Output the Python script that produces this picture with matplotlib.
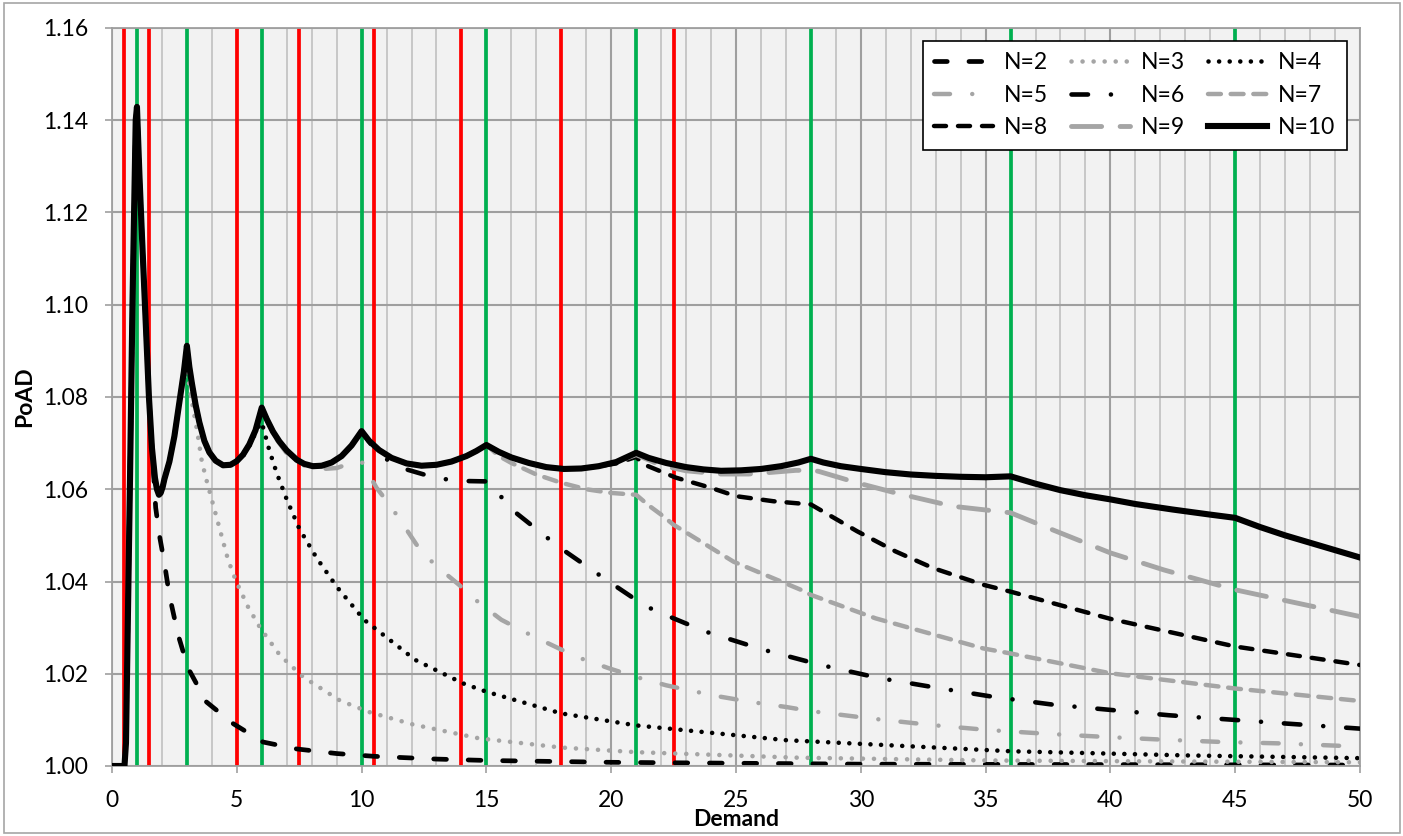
import matplotlib.pyplot as plt
from matplotlib.patches import Rectangle
from matplotlib.ticker import MultipleLocator, FormatStrFormatter

plt.rcParams['font.family'] = ['Lato', 'DejaVu Sans']

# N=10, top envelope
x10 = [0, 0.5, 0.56, 0.72, 0.82, 0.95, 1.0, 1.1, 1.2, 1.32, 1.48, 1.6, 1.72, 1.8,
       1.88, 1.95, 2.03, 2.1, 2.3, 2.5, 2.73, 2.88, 3.0, 3.1, 3.2, 3.35, 3.5, 3.7,
       3.9, 4.15, 4.45, 4.75, 5.0, 5.25, 5.5, 5.75, 6.0, 6.2, 6.45, 6.7, 7.0, 7.4,
       7.7, 8.05, 8.4, 8.8, 9.2, 9.6, 10.0, 10.3, 10.7, 11.2, 11.8, 12.4, 13.0, 13.6,
       14.2, 14.6, 15.0, 15.5, 16.0, 16.7, 17.4, 18.1, 18.8, 19.5, 20.2, 21.0, 21.5,
       22.2, 23.0, 23.7, 24.4, 25.2, 26.0, 26.8, 27.5, 28.0, 28.5, 29.2, 30.0, 31.0,
       32.0, 33.0, 34.0, 35.0, 36.0, 37.0, 38.0, 39.0, 40.0, 41.0, 42.5, 44.0, 45.0,
       46.0, 47.0, 48.0, 49.0, 50.0]
y10 = [1.000, 1.000, 1.005, 1.0617, 1.100, 1.140, 1.1429, 1.128, 1.115, 1.100, 1.080,
       1.069, 1.0625, 1.0600, 1.0588, 1.0592, 1.0605, 1.0622, 1.066, 1.0715, 1.080,
       1.0855, 1.0911, 1.0865, 1.0830, 1.0783, 1.0745, 1.0705, 1.0680, 1.0662,
       1.0652, 1.0653, 1.0661, 1.0675, 1.0697, 1.0728, 1.0777, 1.0752, 1.0725,
       1.0704, 1.0684, 1.0664, 1.0655, 1.0650, 1.0651, 1.0658, 1.0672, 1.0695,
       1.0726, 1.0705, 1.0685, 1.0668, 1.0656, 1.0651, 1.0653, 1.0660, 1.0672,
       1.0683, 1.0696, 1.0681, 1.0669, 1.0657, 1.0648, 1.0644, 1.0645, 1.0650,
       1.0659, 1.0679, 1.0668, 1.0657, 1.0648, 1.0643, 1.0640, 1.0641, 1.0644,
       1.0650, 1.0658, 1.0666, 1.0658, 1.0650, 1.0644, 1.0637, 1.0632, 1.0629,
       1.0627, 1.0626, 1.0628, 1.0612, 1.0598, 1.0587, 1.0578, 1.0568, 1.0556,
       1.0545, 1.0538, 1.0518, 1.0500, 1.0484, 1.0468, 1.0452]

# other N: they follow N=10 up to the start of their own tail
x2 = [1.6, 1.75, 1.9, 2.1, 2.3, 2.65, 3.05, 3.78, 4.85, 6.05, 7.4, 9.0, 10.5, 13, 15,
      20, 25, 30, 40, 50]
y2 = [1.069, 1.056, 1.050, 1.044, 1.037, 1.0284, 1.0212, 1.0139, 1.0092, 1.0052,
      1.0037, 1.0027, 1.0021, 1.0015, 1.0012, 1.0008, 1.0006, 1.0004, 1.0003, 1.0002]

x3 = [2.88, 3.0, 3.2, 3.4, 3.6, 3.78, 4.12, 4.65, 4.96, 5.45, 5.93, 6.73, 7.66, 9.13,
      10.3, 12.06, 14.7, 18, 21, 27.5, 35, 42, 50]
y3 = [1.0840, 1.086, 1.079, 1.073, 1.066, 1.0621, 1.0553, 1.0447, 1.0402, 1.0345,
      1.0300, 1.0240, 1.0193, 1.0142, 1.0117, 1.0090, 1.0060, 1.0040, 1.0030, 1.0018,
      1.0012, 1.0010, 1.0008]

x4 = [5.25, 5.5, 5.75, 5.92, 6.0, 6.3, 6.6, 7.0, 7.5, 8.2, 9.0, 10.1, 12.15, 14.07,
      15, 18, 21, 27, 36, 43, 50]
y4 = [1.0672, 1.0694, 1.0722, 1.0741, 1.0745, 1.0685, 1.0635, 1.0578, 1.0515, 1.0451,
      1.0389, 1.0317, 1.0230, 1.0179, 1.0161, 1.0114, 1.0088, 1.0056, 1.0032, 1.0023,
      1.0017]

x5 = [6.0, 6.5, 7.0, 7.5, 8.2, 9.0, 9.7, 10.0, 10.6, 11.07, 11.5, 12.2, 12.9, 13.9,
      14.7, 15.6, 16.7, 17.9, 18.8, 19.9, 21, 22.2, 23.3, 24.4, 25.7, 27, 28, 30.4,
      32.8, 35.1, 37.4, 39.8, 42.15, 44.5, 46.8, 50]
y5 = [1.0777, 1.0715, 1.0678, 1.0655, 1.0643, 1.0646, 1.0659, 1.0660, 1.0603, 1.0570,
      1.0537, 1.0480, 1.0438, 1.0393, 1.0354, 1.0317, 1.0286, 1.0255, 1.0233, 1.0212,
      1.0193, 1.0175, 1.0162, 1.0150, 1.0138, 1.0128, 1.0119, 1.0103, 1.0089, 1.0078,
      1.0070, 1.0063, 1.0057, 1.0052, 1.0049, 1.0042]

x6 = [10.0, 10.5, 11.0, 11.8, 13.0, 14.0, 15.0, 15.5, 15.95, 17.9, 19.9, 21.0, 21.7,
      23.8, 26.1, 28.4, 30.7, 33, 35.3, 37.7, 42.35, 47.05, 50]
y6 = [1.0726, 1.0688, 1.0665, 1.0643, 1.0624, 1.0618, 1.0617, 1.0590, 1.0559, 1.0475,
      1.0400, 1.0360, 1.0338, 1.0291, 1.0252, 1.0219, 1.0191, 1.0170, 1.0150, 1.0133,
      1.0110, 1.0092, 1.0081]

x7 = [15.0, 15.5, 16, 17, 18, 19, 20, 21, 21.5, 22, 22.5, 24.9, 27.6, 28, 30.6, 34.9,
      36, 40, 45, 50]
y7 = [1.0696, 1.0672, 1.0657, 1.0632, 1.0614, 1.0600, 1.0592, 1.0588, 1.0565, 1.0545,
      1.0523, 1.0443, 1.0382, 1.0371, 1.0320, 1.0255, 1.0244, 1.0201, 1.0168, 1.0141]

x8 = [20.2, 21.0, 21.3, 22.6, 24.0, 25.0, 26.5, 28.0, 29.85, 31.4, 32.9, 34.9, 36, 40,
      45, 50]
y8 = [1.0656, 1.0670, 1.0654, 1.0625, 1.0603, 1.0585, 1.0574, 1.0567, 1.0509, 1.0465,
      1.0429, 1.0393, 1.0378, 1.0319, 1.0259, 1.0219]

x9 = [21.0, 22.0, 23.0, 24.4, 25.5, 26.5, 27.4, 28.0, 28.3, 29.85, 31.4, 33.7, 36.0,
      37.5, 40, 42.15, 45, 50]
y9 = [1.0675, 1.0652, 1.0640, 1.0633, 1.0633, 1.0637, 1.0641, 1.0641, 1.0639, 1.0614,
      1.0592, 1.0563, 1.0549, 1.0516, 1.0462, 1.0425, 1.0382, 1.0324]

red_lines = [0.5, 1.5, 5, 7.5, 10.5, 14, 18, 22.5]
green_lines = [1, 3, 6, 10, 15, 21, 28, 36, 45]

tails = {2: (x2, y2), 3: (x3, y3), 4: (x4, y4), 5: (x5, y5), 6: (x6, y6),
         7: (x7, y7), 8: (x8, y8), 9: (x9, y9)}

black = '#000000'
gray = '#a5a5a5'
styles = {
    2: dict(color=black, lw=3.4, dashes=(2.7, 4.6)),
    3: dict(color=gray, lw=3.3, dashes=(0.01, 2.4)),
    4: dict(color=black, lw=3.3, dashes=(0.01, 2.3)),
    5: dict(color=gray, lw=3.2, dashes=(3.6, 5.0, 0.01, 5.0)),
    6: dict(color=black, lw=3.3, dashes=(3.6, 5.0, 0.01, 5.0)),
    7: dict(color=gray, lw=3.2, dashes=(2.9, 2.2)),
    8: dict(color=black, lw=3.2, dashes=(2.7, 2.7)),
    9: dict(color=gray, lw=3.5, dashes=(6.2, 3.8)),
}

fig = plt.figure(figsize=(14.03, 8.36), dpi=100)
ax = fig.add_axes([112 / 1403, 1 - 766 / 836, 1248 / 1403, 738 / 836])
ax.set_facecolor('#f2f2f2')

for xv in red_lines:
    ax.axvline(xv, color='#ff0000', lw=2.7, zorder=1.5)
for xv in green_lines:
    ax.axvline(xv, color='#00b050', lw=2.7, zorder=1.6)

handles = {}
for n in range(2, 10):
    xt, yt = tails[n]
    xs = [v for v in x10 if v < xt[0]] + xt
    ys = [y10[i] for i, v in enumerate(x10) if v < xt[0]] + yt
    st = styles[n]
    line, = ax.plot(xs, ys, color=st['color'], lw=st['lw'], dashes=st['dashes'],
                    dash_capstyle='round', solid_capstyle='round', label=f'N={n}',
                    zorder=2 + n * 0.1)
    handles[n] = line
line, = ax.plot(x10, y10, color=black, lw=4.4, label='N=10', zorder=3.5,
                solid_joinstyle='round')
handles[10] = line

ax.set_xlim(0, 50)
ax.set_ylim(1.0, 1.16)
ax.xaxis.set_major_locator(MultipleLocator(5))
ax.xaxis.set_minor_locator(MultipleLocator(1))
ax.yaxis.set_major_locator(MultipleLocator(0.02))
ax.yaxis.set_major_formatter(FormatStrFormatter('%.2f'))
ax.set_axisbelow(True)
ax.grid(which='minor', axis='x', color='#c4c4c4', lw=1.3)
ax.grid(which='major', axis='x', color='#9f9f9f', lw=1.5)
ax.grid(which='major', axis='y', color='#9f9f9f', lw=1.5)
ax.tick_params(which='major', direction='out', length=5, width=1.2, color='#9f9f9f',
               labelsize=16.5, pad=12)
ax.tick_params(which='minor', length=0)
for s in ax.spines.values():
    s.set_color('#9f9f9f')
    s.set_linewidth(1.3)

ax.set_xlabel('Demand', fontsize=16.5, fontweight='bold')
ax.set_ylabel('PoAD', fontsize=16.5, fontweight='bold')
ax.xaxis.label.set_va('center')
ax.yaxis.label.set_va('center')
ax.xaxis.set_label_coords(0.5, -0.073)
ax.yaxis.set_label_coords(-0.07, 0.5)

order = [2, 5, 8, 3, 6, 9, 4, 7, 10]
leg = ax.legend([handles[n] for n in order], [f'N={n}' for n in order], ncol=3,
                loc='upper right', bbox_to_anchor=(1347 / 1403, 1 - 41 / 836),
                bbox_transform=fig.transFigure, borderaxespad=0, fontsize=16.5,
                handlelength=2.55, handletextpad=0.5, columnspacing=1.0,
                labelspacing=0.5, borderpad=0.5, fancybox=False, framealpha=1,
                edgecolor='black')
leg.get_frame().set_linewidth(1.2)
leg.set_zorder(5)

fig.patches.append(Rectangle((4 / 1403, 3 / 836), 1396 / 1403, 830 / 836,
                             transform=fig.transFigure, fill=False,
                             edgecolor='#a6a6a6', lw=1.2))

fig.savefig('out.png', dpi=100)
